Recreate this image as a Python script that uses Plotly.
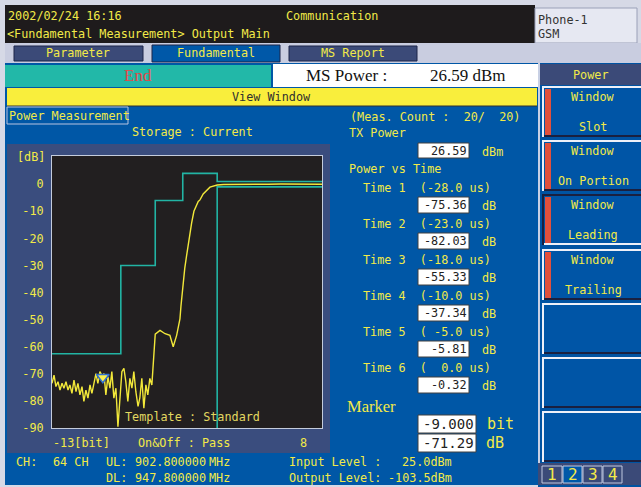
import plotly.graph_objects as go

W, H = 641, 487
BIT_US = 48.0 / 13.0          # one GSM bit period in microseconds

# ---------------------------------------------------------------- data
tx_power_dbm = 26.59

# template (times in microseconds, levels in dB relative to TX power)
upper_us = [-48.0, -28.0, -28.0, -18.0, -18.0, -10.0, -10.0, 0.0, 0.0, 30.5]
upper_db = [-62.6, -62.6, -30.0, -30.0, -6.0, -6.0, 4.0, 4.0, 1.0, 1.0]
lower_us = [0.0, 0.0, 30.5]
lower_db = [-95.0, -1.0, -1.0]

# measured trace, noise floor before the ramp (bits, dB)
noise_bits = [-13.00, -12.84, -12.69, -12.53, -12.37, -12.21, -12.06, -11.90,
              -11.74, -11.59, -11.43, -11.27, -11.11, -10.96, -10.80, -10.64,
              -10.49, -10.33, -10.17, -10.01, -9.86, -9.70, -9.54, -9.39,
              -9.23, -8.91, -8.76, -8.60, -8.44, -8.29, -8.13, -7.97, -7.81,
              -7.50, -7.34, -7.19, -7.03, -6.87, -6.71, -6.56, -6.40, -6.09,
              -5.93, -5.77, -5.61, -5.46, -5.30, -5.14]
noise_db = [-73.5, -70.5, -74.7, -72.9, -76.0, -73.5, -75.3, -72.9,
            -76.0, -74.1, -77.2, -72.3, -76.6, -73.5, -77.8, -74.7,
            -80.2, -76.0, -79.0, -74.1, -77.2, -72.9, -69.9, -73.5,
            -69.2, -69.9, -77.8, -71.1, -75.3, -69.2, -79.0, -75.3, -89.5,
            -69.2, -68.0, -72.9, -80.2, -71.7, -75.3, -69.2, -76.6, -79.0,
            -71.7, -82.7, -74.1, -77.8, -71.7, -74.1]

# rising edge and useful part (bits, dB)
ramp_bits = [-5.02, -4.95, -4.50, -4.10, -3.72, -3.46, -3.19, -2.93, -2.85,
             -2.55, -2.41, -2.20, -2.01, -1.83, -1.49, -1.10, -0.57, 0.50,
             1.0, 2.0, 3.0, 4.0, 5.0, 6.0, 7.0, 8.25]
ramp_db = [-64.0, -58.0, -54.0, -55.2, -55.8, -60.0, -55.8, -49.7, -45.0,
           -31.0, -26.5, -19.2, -14.3, -10.0, -6.4, -3.6, -1.1, -0.1,
           -0.05, 0.0, 0.05, 0.0, 0.05, 0.0, 0.05, 0.0]

# power-vs-time readings
time_us = [-28.0, -23.0, -18.0, -10.0, -5.0, 0.0]
time_db = [-75.36, -82.03, -55.33, -37.34, -5.81, -0.32]

# marker
marker_bit = -9.000
marker_db = -71.29

y_ticks = [0, -10, -20, -30, -40, -50, -60, -70, -80, -90]
y_ticktext = ["0", "-10", "-20", "-30", "-40", "-50", "-60", "-70", "-80", "-90"]

channel = "64 CH"
ul_mhz = "902.800000"
dl_mhz = "947.800000"
input_level = "25.0dBm"
output_level = "-103.5dBm"

# ---------------------------------------------------------------- colours / fonts
YEL = "#f2ea48"
TEAL = "#22b4a4"
BLUE = "#0057a6"
SLATE = "#3a4d7e"
TABSLATE = "#3b4a78"
LIGHT = "#d6d9e6"
PLOTBG = "#221f20"
MONO = "DejaVu Sans Mono"
SERIF = "Liberation Serif"
FS = 11.8

# plot area in pixels
PX0, PX1, PY0, PY1 = 52, 322, 156, 428

shapes = []
annotations = []


def box(x0, y0, x1, y1, fill, line=None, lw=1):
    shapes.append(dict(type="rect", xref="paper", yref="paper",
                       x0=x0 / W, x1=x1 / W, y0=1 - y1 / H, y1=1 - y0 / H,
                       fillcolor=fill, layer="below",
                       line=dict(color=line if line else fill,
                                 width=lw if line else 0)))


def seg(x0, y0, x1, y1, color, w=1):
    shapes.append(dict(type="line", xref="paper", yref="paper",
                       x0=x0 / W, x1=x1 / W, y0=1 - y0 / H, y1=1 - y1 / H,
                       layer="below", line=dict(color=color, width=w)))


def text(x, y, s, color=YEL, size=FS, anchor="left", family=MONO):
    s = s.replace(" ", "\u00a0")
    annotations.append(dict(xref="paper", yref="paper", x=x / W, y=1 - y / H,
                            text=s, showarrow=False, xanchor=anchor,
                            yanchor="middle", borderpad=0, borderwidth=0,
                            font=dict(family=family, size=size, color=color)))


# ---------------------------------------------------------------- header
box(5, 5, 535, 43, "#1e1b1c")
box(535, 8, 637, 43, "#e6e8f2", "#9aa0b8")
text(8, 16, "2002/02/24 16:16")
text(286, 16, "Communication")
text(7, 34, "&lt;Fundamental Measurement&gt; Output Main")
text(538, 20, "Phone-1", color="#333333")
text(538, 34, "GSM", color="#333333")

# tab row
box(5, 43, 641, 63, "#c9cde0")
box(14, 46, 143, 61, TABSLATE, "#1c2448")
box(152, 45, 280, 62, "#0058a8", "#1c2448")
box(289, 46, 417, 61, TABSLATE, "#1c2448")
text(78, 53.5, "Parameter", anchor="center")
text(216, 53.5, "Fundamental", anchor="center")
text(353, 53.5, "MS Report", anchor="center")

# main panel
box(5, 63, 538, 485, BLUE)
box(5, 65, 271, 87, "#22b8a8")
box(273, 64, 538, 87, "#ffffff")
text(138, 76, "End", color="#e04848", size=17, anchor="center", family=SERIF)
text(306, 76, "MS Power :", color="#111111", size=17, family=SERIF)
text(430, 76, f"{tx_power_dbm:.2f} dBm", color="#111111", size=17, family=SERIF)

box(7, 88, 537, 106, "#f9ee3c")
seg(7, 106, 537, 106, "#303030", 1)
text(271, 97, "View Window", color="#303030", anchor="center")

box(7, 107, 128, 124, BLUE, "#b8c4e0")
text(9, 116, "Power Measurement")
text(350, 117, "(Meas. Count :  20/  20)")
text(192, 132, "Storage : Current", anchor="center")

# chart panel and the dark plotting field
box(7, 144, 330, 453, SLATE)
box(PX0, PY0, PX1, PY1, PLOTBG)
text(17, 157, "[dB]")
text(53, 443, "-13[bit]")
text(138, 443, "On&amp;Off : Pass")
text(303, 443, "8", anchor="center")

# bottom info
text(16, 462, "CH:")
text(53, 462, channel)
text(106, 462, "UL:")
text(135, 462, ul_mhz)
text(209, 462, "MHz")
text(106, 478, "DL:")
text(135, 478, dl_mhz)
text(209, 478, "MHz")
text(289, 462, "Input Level :")
text(402, 462, input_level)
text(289, 478, "Output Level:")
text(388, 478, output_level)

# readings column
text(349, 133, "TX Power")
box(418, 143, 469, 158, "#ffffff", "#404040")
text(467, 151, f"{tx_power_dbm:.2f}", color="#222222", anchor="right")
text(482, 152, "dBm")
text(349, 169, "Power vs Time")
for k, (t, v) in enumerate(zip(time_us, time_db)):
    yy = 188 + 36 * k
    text(363, yy, f"Time {k + 1}  ({t:5.1f} us)")
    box(418, yy + 9, 469, yy + 25, "#ffffff", "#404040")
    text(467, yy + 17, f"{v:.2f}", color="#222222", anchor="right")
    text(482, yy + 18, "dB")

text(347, 406, "Marker", size=16.5, family=SERIF)
box(418, 415, 476, 433, "#ffffff", "#404040")
text(474, 424, f"{marker_bit:.3f}", color="#222222", size=14, anchor="right")
text(487, 424, "bit", size=15)
box(418, 434, 476, 452, "#ffffff", "#404040")
text(474, 443, f"{marker_db:.2f}", color="#222222", size=14, anchor="right")
text(486, 443, "dB", size=15)

# ---------------------------------------------------------------- soft keys
box(538, 63, 641, 487, "#0053a2")
seg(539, 63, 539, 463, "#c8d0e4", 2)
box(540, 64, 641, 85, TABSLATE)
text(591, 75, "Power", anchor="center")

keys = [(86, 137, "Window", "Slot", False),
        (140, 191, "Window", "On Portion", False),
        (194, 245, "Window", "Leading", True),
        (249, 300, "Window", "Trailing", False),
        (303, 354, "", "", False),
        (357, 408, "", "", False),
        (411, 462, "", "", False)]
for top, bot, l1, l2, pressed in keys:
    hi = "#1a2040" if pressed else "#eef0f8"
    lo = "#eef0f8" if pressed else "#1a2040"
    box(542, top, 641, bot, hi)
    box(544, top + 2, 641, bot, lo)
    box(544, top + 2, 641, bot - 2, "#0055a6")
    if l1:
        box(545, top + 3, 551, bot - 2, "#e2503c")
        text(593, top + 11, l1, anchor="center")
        text(593, top + 41, l2, anchor="center")

box(538, 463, 641, 485, TABSLATE)
for i, (x0, x1) in enumerate([(542, 562), (563, 582), (583, 602), (603, 622)]):
    box(x0, 466, x1, 483, "#0058a8" if i == 1 else TABSLATE, "#c0c8e0")
    text((x0 + x1) / 2, 474.5, str(i + 1), size=16, anchor="center")

# ---------------------------------------------------------------- traces
upper_bits = [t / BIT_US for t in upper_us]
lower_bits = [t / BIT_US for t in lower_us]

pts = list(zip(noise_bits, noise_db)) + list(zip(ramp_bits, ramp_db))
pts += [(t / BIT_US, v) for t, v in zip(time_us, time_db)]
pts.append((marker_bit, marker_db))
pts.sort()
trace_x = [p[0] for p in pts]
trace_y = [p[1] for p in pts]

fig = go.Figure()
fig.add_trace(go.Scatter(x=upper_bits, y=upper_db, mode="lines",
                         line=dict(color=TEAL, width=1.6), hoverinfo="skip"))
fig.add_trace(go.Scatter(x=lower_bits, y=lower_db, mode="lines",
                         line=dict(color=TEAL, width=1.6), hoverinfo="skip"))
fig.add_trace(go.Scatter(x=trace_x, y=trace_y, mode="lines",
                         line=dict(color="#f2e83a", width=1.4), hoverinfo="skip"))
fig.add_trace(go.Scatter(x=[marker_bit], y=[marker_db], mode="markers",
                         marker=dict(symbol="triangle-down", size=11,
                                     color="#f8f050",
                                     line=dict(color="#2f6fd0", width=1.5)),
                         hoverinfo="skip"))

text(125, 417, "Template : Standard", color="#e2d860")

fig.update_layout(
    width=W, height=H, margin=dict(l=0, r=0, t=0, b=0, pad=0),
    paper_bgcolor=LIGHT, plot_bgcolor=PLOTBG,
    showlegend=False, shapes=shapes, annotations=annotations,
    xaxis=dict(domain=[PX0 / W, PX1 / W], range=[-13, 8.25], automargin=False,
               showgrid=False, zeroline=False, showticklabels=False,
               showline=True, mirror=True, linecolor="#c4ccdc", linewidth=1),
    yaxis=dict(domain=[1 - PY1 / H, 1 - PY0 / H], range=[-90, 10.4],
               automargin=False, showgrid=False, zeroline=False,
               tickvals=y_ticks, ticktext=y_ticktext,
               tickfont=dict(family=MONO, size=FS, color=YEL),
               ticks="", ticklabelstandoff=5,
               showline=True, mirror=True, linecolor="#c4ccdc", linewidth=1),
)

fig.write_html("out.html")
